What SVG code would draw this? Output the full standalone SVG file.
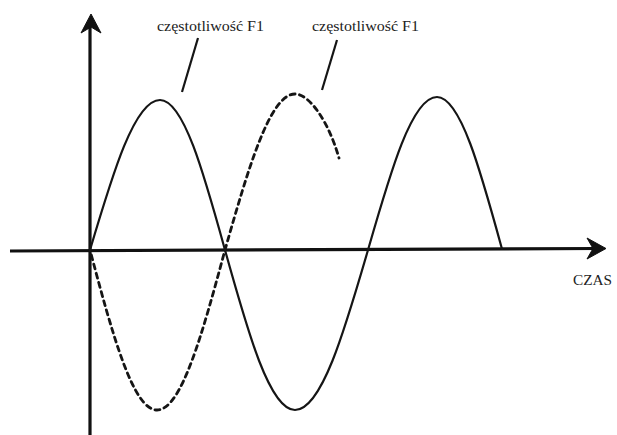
<svg xmlns="http://www.w3.org/2000/svg" width="617" height="435" viewBox="0 0 617 435">
<style>
.axis{stroke:#111;stroke-width:3.2;fill:none}
.head{fill:#111;stroke:#111;stroke-width:1;stroke-linejoin:round}
.solid{stroke:#151515;stroke-width:2.2;fill:none;stroke-linecap:round}
.dash{stroke:#151515;stroke-width:2.8;fill:none;stroke-dasharray:5 4.5;stroke-linecap:round}
.leader{stroke:#151515;stroke-width:2.2;fill:none}
.lbl{font-family:"Liberation Serif","Times New Roman",serif;font-size:15px;fill:#222}
</style>
<rect width="617" height="435" fill="#fff"/>
<g id="axes">
<line class="axis" x1="90" y1="26" x2="90" y2="435"/>
<path class="head" d="M91,14 L101,33 L91,27 L81,33 Z"/>
<line class="axis" x1="10" y1="251" x2="598" y2="248.5"/>
<path class="head" d="M606,248.5 L587,238 L593,248.5 L587,259 Z"/>
</g>
<g id="connectors">
<line class="leader" x1="198" y1="38" x2="182" y2="92"/>
<line class="leader" x1="337" y1="40" x2="322" y2="90"/>
</g>
<g id="solid-wave">
<path class="solid" d="M90,250 C112.8,173.2 134.7,100 160,100 C183.5,100 203.8,173.2 225,250 C247.8,332 269.7,410 295,410 C321.4,410 344.2,332 368,250 C390.5,171.6 412,97 437,97 C460.5,97 480.8,171.6 502,249"/>
</g>
<g id="dashed-wave">
<path class="dash" stroke-dashoffset="-24" d="M90,250 C111.8,332 132.8,410 157,410 C181.6,410 202.8,332 225,250 C247.8,170.1 269.7,94 295,94 C309,94 328,120 339,158"/>
</g>
<g id="label1"><text class="lbl" x="157" y="31" textLength="107" lengthAdjust="spacingAndGlyphs">częstotliwość F1</text></g>
<g id="label2"><text class="lbl" x="312" y="31" textLength="107" lengthAdjust="spacingAndGlyphs">częstotliwość F1</text></g>
<g id="czas"><text class="lbl" x="573" y="285" textLength="39" lengthAdjust="spacingAndGlyphs">CZAS</text></g>
</svg>
